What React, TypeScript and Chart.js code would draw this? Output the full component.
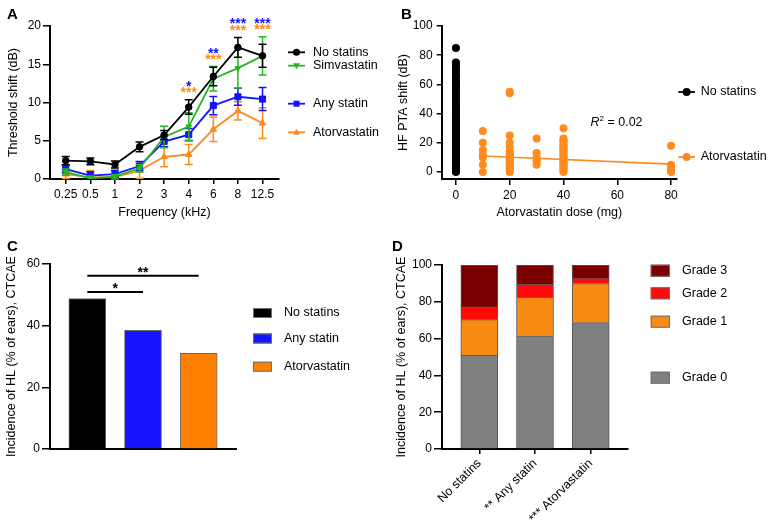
import React, { useEffect, useRef } from "react";
import { Chart, registerables } from "chart.js";

Chart.register(...registerables);

const FONT = "'Liberation Sans', Arial, Helvetica, sans-serif";
Chart.defaults.font.family = FONT;
Chart.defaults.color = "#000";

// ---------------- Panel A data ----------------
const freqLabels = ["0.25", "0.5", "1", "2", "3", "4", "6", "8", "12.5"];
const yTicksA = [0, 5, 10, 15, 20];
const seriesNamesA = ["No statins", "Simvastatin", "Any statin", "Atorvastatin"];
const noStatinMean = [2.4, 2.3, 1.9, 4.2, 5.75, 9.4, 13.4, 17.2, 16.1];
const noStatinErr = [0.55, 0.45, 0.45, 0.65, 0.6, 0.95, 1.2, 1.3, 1.5];
const simvaMean = [0.9, 0.1, 0.3, 1.4, 5.5, 6.85, 13.1, 14.5, 16.1];
const simvaErr = [0.4, 0.3, 0.3, 0.5, 1.4, 1.8, 1.6, 2.6, 2.5];
const anyStatinMean = [1.3, 0.45, 0.65, 1.7, 4.9, 5.8, 9.6, 10.75, 10.45];
const anyStatinErr = [0.5, 0.5, 0.5, 0.6, 0.7, 0.8, 1.2, 1.1, 1.5];
const atorvaMean = [0.65, 0.2, 0.25, 1.1, 2.9, 3.2, 6.5, 8.9, 7.3];
const atorvaErr = [0.6, 0.9, 0.3, 1.0, 1.3, 1.3, 1.6, 1.2, 2.0];
const sigAnyStatin = ["", "", "", "", "", "*", "**", "***", "***"];
const sigAtorva = ["", "", "", "", "", "***", "***", "***", "***"];

// ---------------- Panel B data ----------------
const doseTicks = [0, 20, 40, 60, 80];
const shiftTicks = [0, 20, 40, 60, 80, 100];
const noStatinShift = [
  0, 1, 2, 3, 4, 5, 6, 7, 8, 9, 10, 11, 12, 13, 14, 15, 16, 17, 18, 19, 20, 21, 22, 23,
  24, 25, 26, 27, 28, 29, 30, 31, 32, 33, 34, 35, 36, 37, 38, 40, 41, 42, 44, 45, 46,
  48, 50, 51, 53, 55, 56, 58, 60, 61, 63, 65, 66, 68, 70, 72, 73, 75, 85,
];
const atorvaDoses = [10, 20, 30, 40, 80];
const atorvaShift10 = [0, 5, 10, 11, 12, 15, 20, 28];
const atorvaShift20 = [0, 1, 2, 3, 4, 5, 6, 7, 8, 9, 10, 11, 12, 13, 14, 17, 20, 25, 54, 55];
const atorvaShift30 = [5, 7, 8, 10, 13, 23];
const atorvaShift40 = [0, 1, 2, 3, 4, 5, 6, 7, 8, 9, 10, 11, 12, 13, 14, 15, 16, 17, 18, 19, 20, 21, 22, 23, 30];
const atorvaShift80 = [0, 1, 2, 4, 5, 18];
const atorvaShiftByDose = [atorvaShift10, atorvaShift20, atorvaShift30, atorvaShift40, atorvaShift80];
const trendDose = [10, 80];
const trendShift = [11.0, 5.4];
const r2Value = "0.02";
const seriesNamesB = ["No statins", "Atorvastatin"];

// ---------------- Panel C data ----------------
const groupNamesC = ["No statins", "Any statin", "Atorvastatin"];
const incidenceC = [48.8, 38.5, 31.0];
const yTicksC = [0, 20, 40, 60];
const bracketFrom = [0, 0];
const bracketTo = [2, 1];
const bracketLevel = [56.2, 50.9];
const bracketText = ["**", "*"];

// ---------------- Panel D data ----------------
const groupLabelsD = ["No statins", "** Any statin", "*** Atorvastatin"];
const gradeNames = ["Grade 0", "Grade 1", "Grade 2", "Grade 3"];
const grade0 = [51.0, 61.5, 68.7];
const grade1 = [19.3, 21.1, 21.2];
const grade2 = [6.9, 6.7, 3.0];
const grade3 = [22.8, 10.7, 7.1];
const yTicksD = [0, 20, 40, 60, 80, 100];

// ---------------- styles ----------------
const BLACK = "#000000";
const GREEN = "#22b822";
const BLUE = "#1414ff";
const ORANGE = "#ff8a1e";
const C_ORANGE = "#ff8000";
const GRADE_COLORS = ["#808080", "#f98a12", "#ff0a0a", "#7a0000"];

type Marker = "circle" | "triangleDown" | "rect" | "triangle" | "box";

function drawMarker(ctx: CanvasRenderingContext2D, kind: Marker, x: number, y: number, color: string, r = 3.5) {
  ctx.fillStyle = color;
  ctx.beginPath();
  if (kind === "circle") ctx.arc(x, y, r, 0, Math.PI * 2);
  else if (kind === "rect") ctx.rect(x - r + 0.5, y - r + 0.5, 2 * r - 1, 2 * r - 1);
  else if (kind === "triangle") {
    ctx.moveTo(x, y - r);
    ctx.lineTo(x + r, y + r * 0.7);
    ctx.lineTo(x - r, y + r * 0.7);
    ctx.closePath();
  } else if (kind === "triangleDown") {
    ctx.moveTo(x, y + r);
    ctx.lineTo(x + r, y - r * 0.7);
    ctx.lineTo(x - r, y - r * 0.7);
    ctx.closePath();
  }
  ctx.fill();
}

type LegendItem = { text: string; color: string; y: number; marker: Marker };

function legendPlugin(items: LegendItem[], x0: number, x1: number, textX: number, boxH = 10, r = 3.5) {
  return {
    id: "customLegend",
    afterDraw(chart: any) {
      const ctx: CanvasRenderingContext2D = chart.ctx;
      ctx.save();
      for (const it of items) {
        if (it.marker === "box") {
          ctx.fillStyle = it.color;
          ctx.fillRect(x0, it.y - boxH / 2, x1 - x0, boxH);
          ctx.strokeStyle = "#707070";
          ctx.lineWidth = 1;
          ctx.strokeRect(x0 + 0.5, it.y - boxH / 2 + 0.5, x1 - x0 - 1, boxH - 1);
        } else {
          ctx.strokeStyle = it.color;
          ctx.lineWidth = 1.8;
          ctx.beginPath();
          ctx.moveTo(x0, it.y);
          ctx.lineTo(x1, it.y);
          ctx.stroke();
          drawMarker(ctx, it.marker, (x0 + x1) / 2, it.y, it.color, r);
        }
        ctx.fillStyle = "#000";
        ctx.font = `12.5px ${FONT}`;
        ctx.textAlign = "left";
        ctx.textBaseline = "middle";
        ctx.fillText(it.text, textX, it.y);
      }
      ctx.restore();
    },
  };
}

function axisBase(tickLength: number, padding: number) {
  return {
    border: { display: true, color: "#000", width: 2 },
    grid: { display: true, drawOnChartArea: false, drawTicks: true, tickLength, color: "#000", lineWidth: 1.5 },
    ticks: { color: "#000", font: { family: FONT, size: 12 }, padding, autoSkip: false, maxRotation: 0, minRotation: 0 },
  };
}

function titleOpt(text: string, top: number, bottom: number) {
  return { display: true, text, color: "#000", font: { family: FONT, size: 12.5 }, padding: { top, bottom } };
}

const setTicks = (vals: number[]) => (s: any) => {
  s.ticks = vals.map((v) => ({ value: v }));
};

const seriesA = [
  { mean: noStatinMean, err: noStatinErr, color: BLACK, style: "circle", rot: 0, r: 3.3, marker: "circle" as Marker },
  { mean: simvaMean, err: simvaErr, color: GREEN, style: "triangle", rot: 180, r: 3.3, marker: "triangleDown" as Marker },
  { mean: anyStatinMean, err: anyStatinErr, color: BLUE, style: "rect", rot: 0, r: 4.3, marker: "rect" as Marker },
  { mean: atorvaMean, err: atorvaErr, color: ORANGE, style: "triangle", rot: 0, r: 3.8, marker: "triangle" as Marker },
];

function makeChartA(canvas: HTMLCanvasElement) {
  const errorBars = {
    id: "errorBars",
    afterDatasetDraw(chart: any, args: any) {
      const s = seriesA[args.index];
      const ctx: CanvasRenderingContext2D = chart.ctx;
      const ys = chart.scales.y;
      const xs = chart.scales.x;
      ctx.save();
      ctx.strokeStyle = s.color;
      ctx.lineWidth = 1.5;
      s.mean.forEach((m, i) => {
        const px = xs.getPixelForValue(i);
        const top = ys.getPixelForValue(m + s.err[i]);
        const lowV = m - s.err[i];
        const bot = ys.getPixelForValue(Math.max(lowV, 0));
        ctx.beginPath();
        ctx.moveTo(px, top);
        ctx.lineTo(px, bot);
        ctx.moveTo(px - 4, top);
        ctx.lineTo(px + 4, top);
        if (lowV >= 0) {
          ctx.moveTo(px - 4, bot);
          ctx.lineTo(px + 4, bot);
        }
        ctx.stroke();
      });
      ctx.restore();
    },
  };
  const stars = {
    id: "stars",
    afterDatasetsDraw(chart: any) {
      const ctx: CanvasRenderingContext2D = chart.ctx;
      const ys = chart.scales.y;
      const xs = chart.scales.x;
      ctx.save();
      ctx.font = `bold 14px ${FONT}`;
      ctx.textAlign = "center";
      ctx.textBaseline = "alphabetic";
      freqLabels.forEach((_, i) => {
        if (!sigAnyStatin[i] && !sigAtorva[i]) return;
        const top = Math.max(...seriesA.map((s) => s.mean[i] + s.err[i]));
        const py = ys.getPixelForValue(top);
        const px = xs.getPixelForValue(i);
        ctx.fillStyle = ORANGE;
        ctx.fillText(sigAtorva[i], px, py - 10.5 + 8);
        ctx.fillStyle = BLUE;
        ctx.fillText(sigAnyStatin[i], px, py - 17 + 8);
      });
      ctx.restore();
    },
  };
  const legendYs = [52.3, 65.7, 103.7, 132.3];
  const legend = legendPlugin(
    seriesA.map((s, i) => ({ text: seriesNamesA[i], color: s.color, y: legendYs[i], marker: s.marker })),
    288,
    305,
    313
  );
  const bx = axisBase(5, 3);
  const by = axisBase(7, 2);
  return new Chart(canvas, {
    type: "line",
    data: {
      datasets: seriesA.map((s, di) => ({
        label: seriesNamesA[di],
        data: s.mean.map((y, i) => ({ x: i, y })),
        borderColor: s.color,
        backgroundColor: s.color,
        borderWidth: 1.8,
        pointStyle: s.style as any,
        pointRotation: s.rot,
        pointRadius: s.r,
        pointBorderWidth: 1,
        tension: 0,
      })),
    },
    options: {
      responsive: false,
      animation: false,
      events: [],
      layout: { padding: { left: 0, top: 26, right: 105, bottom: 29.5 } },
      plugins: { legend: { display: false }, tooltip: { enabled: false } },
      scales: {
        x: {
          type: "linear",
          min: -0.64,
          max: 8.67,
          border: bx.border,
          grid: bx.grid,
          ticks: { ...bx.ticks, callback: (v: any) => freqLabels[v] ?? "" },
          afterBuildTicks: setTicks(freqLabels.map((_, i) => i)),
          afterFit: (s: any) => {
            s.height = 41.5;
          },
          title: titleOpt("Frequency (kHz)", 0, 0),
        },
        y: {
          type: "linear",
          min: 0,
          max: 20,
          border: by.border,
          grid: by.grid,
          ticks: by.ticks,
          afterBuildTicks: setTicks(yTicksA),
          afterFit: (s: any) => {
            s.width = 50;
          },
          title: titleOpt("Threshold shift (dB)", 6, 0),
        },
      },
    } as any,
    plugins: [errorBars, stars, legend],
  });
}

function makeChartB(canvas: HTMLCanvasElement) {
  const atorvaPoints: { x: number; y: number }[] = [];
  atorvaDoses.forEach((d, k) => atorvaShiftByDose[k].forEach((y) => atorvaPoints.push({ x: d, y })));
  const r2 = {
    id: "r2",
    afterDraw(chart: any) {
      const ctx: CanvasRenderingContext2D = chart.ctx;
      ctx.save();
      ctx.fillStyle = "#000";
      ctx.textBaseline = "alphabetic";
      ctx.textAlign = "left";
      let x = 206.5;
      const y = 125.5;
      ctx.font = `italic 12.5px ${FONT}`;
      ctx.fillText("R", x, y);
      x += ctx.measureText("R").width;
      ctx.font = `8px ${FONT}`;
      ctx.fillText("2", x, y - 5);
      x += ctx.measureText("2").width;
      ctx.font = `12.5px ${FONT}`;
      ctx.fillText(" = " + r2Value, x, y);
      ctx.restore();
    },
  };
  const legend = legendPlugin(
    [
      { text: seriesNamesB[0], color: BLACK, y: 92, marker: "circle" },
      { text: seriesNamesB[1], color: ORANGE, y: 157, marker: "circle" },
    ],
    294.3,
    311,
    316.7,
    10,
    4
  );
  const bx = axisBase(6, 3);
  const by = axisBase(5, 4);
  return new Chart(canvas, {
    type: "scatter",
    data: {
      datasets: [
        {
          label: seriesNamesB[0],
          data: noStatinShift.map((y) => ({ x: 0, y })),
          backgroundColor: BLACK,
          borderColor: BLACK,
          pointRadius: 4,
          pointBorderWidth: 0,
        },
        {
          label: seriesNamesB[1],
          data: atorvaPoints,
          backgroundColor: ORANGE,
          borderColor: ORANGE,
          pointRadius: 4,
          pointBorderWidth: 0,
        },
        {
          label: "trend",
          data: trendDose.map((x, i) => ({ x, y: trendShift[i] })),
          showLine: true,
          borderColor: ORANGE,
          borderWidth: 1.6,
          pointRadius: 0,
        },
      ],
    },
    options: {
      responsive: false,
      animation: false,
      events: [],
      layout: { padding: { left: 0, top: 26, right: 91, bottom: 29.5 } },
      plugins: { legend: { display: false }, tooltip: { enabled: false } },
      scales: {
        x: {
          type: "linear",
          min: -5.3,
          max: 82.2,
          border: bx.border,
          grid: bx.grid,
          ticks: bx.ticks,
          afterBuildTicks: setTicks(doseTicks),
          afterFit: (s: any) => {
            s.height = 41.5;
          },
          title: titleOpt("Atorvastatin dose (mg)", 0, 0),
        },
        y: {
          type: "linear",
          min: -4.8,
          max: 100,
          border: by.border,
          grid: by.grid,
          ticks: by.ticks,
          afterBuildTicks: setTicks(shiftTicks),
          afterFit: (s: any) => {
            s.width = 57.7;
          },
          title: titleOpt("HF PTA shift (dB)", 11.8, 0),
        },
      },
    } as any,
    plugins: [r2, legend],
  });
}

function makeChartC(canvas: HTMLCanvasElement) {
  const colors = [BLACK, BLUE, C_ORANGE];
  const brackets = {
    id: "brackets",
    afterDraw(chart: any) {
      const ctx: CanvasRenderingContext2D = chart.ctx;
      const xs = chart.scales.x;
      const ys = chart.scales.y;
      ctx.save();
      ctx.strokeStyle = "#000";
      ctx.fillStyle = "#000";
      ctx.lineWidth = 2;
      ctx.font = `bold 14px ${FONT}`;
      ctx.textAlign = "center";
      ctx.textBaseline = "alphabetic";
      bracketText.forEach((t, k) => {
        const x0 = xs.getPixelForValue(bracketFrom[k]);
        const x1 = xs.getPixelForValue(bracketTo[k]);
        const y = ys.getPixelForValue(bracketLevel[k]);
        ctx.beginPath();
        ctx.moveTo(x0, y);
        ctx.lineTo(x1, y);
        ctx.stroke();
        ctx.fillText(t, (x0 + x1) / 2, y - 7 + 8);
      });
      ctx.restore();
    },
  };
  const legendYs = [63, 88.5, 116.7];
  const legend = legendPlugin(
    groupNamesC.map((n, i) => ({ text: n, color: colors[i], y: legendYs[i], marker: "box" as Marker })),
    253,
    272,
    284,
    10
  );
  const by = axisBase(8, 2);
  return new Chart(canvas, {
    type: "bar",
    data: {
      datasets: [
        {
          label: "Incidence",
          data: incidenceC.map((y, i) => ({ x: i, y })) as any,
          backgroundColor: colors,
          borderColor: "#6a6a6a",
          borderWidth: 1,
          barThickness: 37,
        },
      ],
    },
    options: {
      responsive: false,
      animation: false,
      events: [],
      layout: { padding: { left: 0, top: 14, right: 154, bottom: 66 } },
      plugins: { legend: { display: false }, tooltip: { enabled: false } },
      scales: {
        x: {
          type: "linear",
          min: -0.67,
          max: 2.67,
          offset: false,
          border: { display: true, color: "#000", width: 2 },
          grid: { display: false, offset: false },
          ticks: { display: false },
          afterFit: (s: any) => {
            s.height = 10;
          },
        },
        y: {
          type: "linear",
          min: 0,
          max: 60,
          border: by.border,
          grid: by.grid,
          ticks: by.ticks,
          afterBuildTicks: setTicks(yTicksC),
          afterFit: (s: any) => {
            s.width = 50;
          },
          title: titleOpt("Incidence of HL (% of ears), CTCAE", 4.2, 0),
        },
      },
    } as any,
    plugins: [brackets, legend],
  });
}

function makeChartD(canvas: HTMLCanvasElement) {
  const grades = [grade0, grade1, grade2, grade3];
  const legendYs = [127.7, 71.7, 43.3, 20.7];
  const legend = legendPlugin(
    gradeNames
      .map((n, i) => ({ text: n, color: GRADE_COLORS[i], y: legendYs[i], marker: "box" as Marker }))
      .reverse(),
    260.7,
    280,
    292,
    12
  );
  const bx = axisBase(5, 2);
  const by = axisBase(8, 2);
  return new Chart(canvas, {
    type: "bar",
    data: {
      datasets: grades.map((g, k) => ({
        label: gradeNames[k],
        data: g.map((y, i) => ({ x: i, y })) as any,
        backgroundColor: GRADE_COLORS[k],
        borderColor: "#555",
        borderWidth: 1,
        borderSkipped: "start",
        barThickness: 37,
      })),
    },
    options: {
      responsive: false,
      animation: false,
      events: [],
      layout: { padding: { left: 0, top: 15, right: 140, bottom: 0 } },
      plugins: { legend: { display: false }, tooltip: { enabled: false } },
      scales: {
        x: {
          type: "linear",
          stacked: true,
          min: -0.67,
          max: 2.67,
          offset: false,
          border: bx.border,
          grid: { ...bx.grid, offset: false },
          ticks: {
            ...bx.ticks,
            font: { family: FONT, size: 12.5 },
            minRotation: 45,
            maxRotation: 45,
            callback: (v: any) => groupLabelsD[v] ?? "",
          },
          afterBuildTicks: setTicks(groupLabelsD.map((_, i) => i)),
          afterFit: (s: any) => {
            s.height = 76;
          },
        },
        y: {
          type: "linear",
          stacked: true,
          min: 0,
          max: 100,
          border: by.border,
          grid: by.grid,
          ticks: by.ticks,
          afterBuildTicks: setTicks(yTicksD),
          afterFit: (s: any) => {
            s.width = 52;
          },
          title: titleOpt("Incidence of HL (% of ears), CTCAE", 4.2, 0),
        },
      },
    } as any,
    plugins: [legend],
  });
}

export default function App() {
  const aRef = useRef<HTMLCanvasElement>(null);
  const bRef = useRef<HTMLCanvasElement>(null);
  const cRef = useRef<HTMLCanvasElement>(null);
  const dRef = useRef<HTMLCanvasElement>(null);

  useEffect(() => {
    const charts = [
      makeChartA(aRef.current!),
      makeChartB(bRef.current!),
      makeChartC(cRef.current!),
      makeChartD(dRef.current!),
    ];
    return () => charts.forEach((c) => c.destroy());
  }, []);

  const label = (text: string, left: number, top: number) => (
    <div
      style={{
        position: "absolute",
        left,
        top,
        font: `bold 15px ${FONT}`,
        lineHeight: "15px",
        color: "#000",
      }}
    >
      {text}
    </div>
  );

  return (
    <div
      style={{
        position: "fixed",
        left: 0,
        top: 0,
        width: 768,
        height: 525,
        background: "#fff",
        overflow: "hidden",
      }}
    >
      <canvas ref={aRef} width={384} height={250} style={{ position: "absolute", left: 0, top: 0 }} />
      <canvas ref={bRef} width={384} height={250} style={{ position: "absolute", left: 384, top: 0 }} />
      <canvas ref={cRef} width={390} height={275} style={{ position: "absolute", left: 0, top: 250 }} />
      <canvas ref={dRef} width={378} height={275} style={{ position: "absolute", left: 390, top: 250 }} />
      {label("A", 7, 6)}
      {label("B", 401, 6)}
      {label("C", 7, 238)}
      {label("D", 392, 238)}
    </div>
  );
}
